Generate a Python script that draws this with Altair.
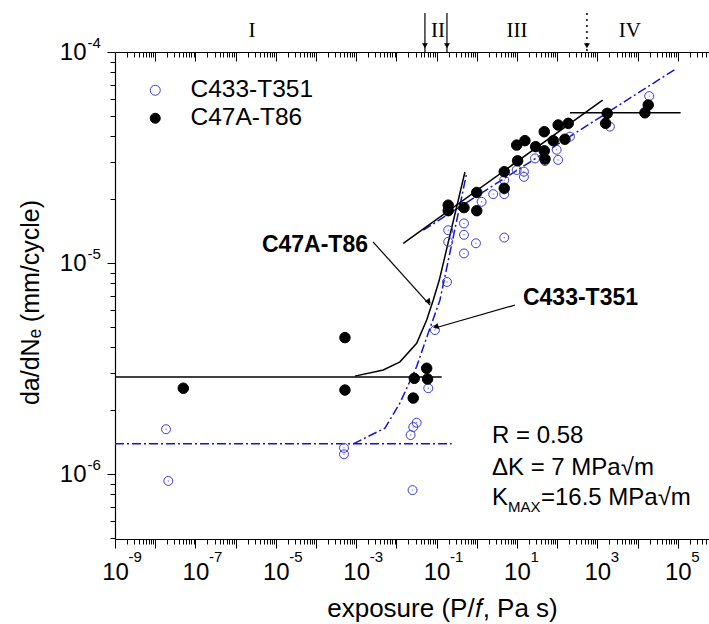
import altair as alt
import pandas as pd

FONT = "Liberation Sans"
SERIF = "Liberation Serif"
BLUE_PT = "#3a3ae0"
BLUE_LN = "#1414d2"

XMIN, XMAX = 1e-9, 6.0e5
YMIN, YMAX = 4.92e-7, 1e-4

S1, S2 = "C433-T351", "C47A-T86"

# ---- measured data: C433-T351 (open blue circles)
c433_x = [1.86e-8, 2.12e-8, 4.98e-4, 4.98e-4, 0.032, 0.0263, 0.0226, 0.0253, 0.0622, 0.0912,
          0.182, 0.195, 0.195, 0.481, 0.481, 0.481, 0.955, 4.83, 1.32, 2.57,
          4.83, 4.83, 14.9, 14.9, 9.84, 28.1, 49.8, 106, 97.3, 208, 2056, 19540]
c433_y = [1.63e-6, 9.27e-7, 1.33e-6, 1.24e-6, 1.75e-6, 1.67e-6, 1.53e-6, 8.39e-7, 2.55e-6, 4.81e-6,
          8.13e-6, 1.43e-5, 1.26e-5, 1.54e-5, 1.36e-5, 1.11e-5, 1.24e-5, 1.32e-5, 1.95e-5, 2.12e-5,
          2.12e-5, 2.47e-5, 2.56e-5, 2.71e-5, 2.76e-5, 3.13e-5, 3.04e-5, 3.08e-5, 3.44e-5, 3.97e-5,
          4.43e-5, 6.18e-5]
# ---- C47A-T86 (filled black circles)
c47a_x = [5.0e-8, 5.26e-4, 5.26e-4, 0.0279, 0.0568, 0.0597, 0.0263, 0.195, 0.195, 0.481,
          1.0, 1.0, 4.83, 4.83, 10.4, 9.84, 15.8, 29.2, 47.8, 47.8,
          49.8, 80, 106, 189, 156, 1762, 1607, 15280, 18460]
c47a_y = [2.55e-6, 4.43e-6, 2.50e-6, 2.84e-6, 3.17e-6, 2.82e-6, 2.29e-6, 1.88e-5, 1.77e-5, 1.83e-5,
          2.16e-5, 1.77e-5, 2.71e-5, 2.26e-5, 3.05e-5, 3.62e-5, 3.80e-5, 3.56e-5, 4.19e-5, 3.40e-5,
          3.11e-5, 3.80e-5, 4.51e-5, 4.59e-5, 3.86e-5, 5.12e-5, 4.59e-5, 5.15e-5, 5.61e-5]

# ---- model / fit lines
k_flat_x, k_flat_y = [1e-9, 0.134], [2.88e-6, 2.88e-6]
k_curve_x = [9.3e-4, 4.72e-3, 0.0123, 0.032, 0.0568, 0.0828, 0.117, 0.508]
k_curve_y = [2.91e-6, 3.11e-6, 3.40e-6, 4.16e-6, 5.37e-6, 6.68e-6, 8.3e-6, 2.70e-5]
k_s3_x, k_s3_y = [0.01486, 1355], [1.24e-5, 5.92e-5]
k_s4_x, k_s4_y = [208, 1.18e5], [5.15e-5, 5.15e-5]
b_flat_x, b_flat_y = [1e-9, 0.238], [1.39e-6, 1.39e-6]
b_curve_x = [8.47e-4, 5.2e-3, 0.0123, 0.032, 0.0622, 0.1216, 0.57]
b_curve_y = [1.39e-6, 1.65e-6, 2.17e-6, 3.23e-6, 4.66e-6, 6.68e-6, 2.70e-5]
b_s3_x, b_s3_y = [0.0467, 9.4e4], [1.43e-5, 8.37e-5]

# ---- annotations
ann_labels = ["C47A-T86", "C433-T351"]
ann_lab_x = [1.97e-3, 14.1]
ann_lab_y = [1.22e-5, 6.83e-6]
ann_lab_align = ["right", "left"]
arrow_seg = ["a", "a", "b", "b"]
arrow_x = [2.62e-3, 0.0686, 8.91, 0.0912]
arrow_y = [1.26e-5, 6.32e-6, 6.32e-6, 4.92e-6]
head_x = [0.0625, 0.1]
head_y = [6.6e-6, 5.0e-6]
head_angle = [139, 253]

roman = ["I", "II", "III", "IV"]
roman_x = [2.56e-6, 0.1084, 10.0, 6470]
roman_y = [1.26e-4, 1.26e-4, 1.26e-4, 1.26e-4]
region_x = [0.0514, 0.1815, 551]
region_dotted = [False, False, True]
region_y_top, region_y_bot, region_y_head = 1.53e-4, 1.0e-4, 1.07e-4

info_x = 2.39
info_lines = ["R = 0.58", "\u0394K = 7 MPa\u221am"]
info_y = [1.51e-6, 1.07e-6]
kmax_y = 7.69e-7
kmax_parts = ["K", "MAX", "=16.5 MPa\u221am"]
kmax_dx = [0, 16, 49]
kmax_dy = [0, 9, 0]
kmax_fs = [24, 15, 24]

x_major = [10.0 ** e for e in range(-9, 6)]
x_lab = [10.0 ** e for e in range(-9, 6, 2)]
x_minor = [m * 10.0 ** e for e in range(-9, 6) for m in range(2, 10) if m * 10.0 ** e <= XMAX]
y_major = [1e-6, 1e-5, 1e-4]
y_minor = [m * 10.0 ** e for e in (-7, -6, -5) for m in range(2, 10) if m * 10.0 ** e >= YMIN]

# ---- tables
pts = pd.DataFrame({
    "x": c433_x + c47a_x,
    "y": c433_y + c47a_y,
    "series": [S1] * len(c433_x) + [S2] * len(c47a_x),
    "sz": [80] * len(c433_x) + [110] * len(c47a_x),
})
centers = pd.DataFrame({"x": c433_x, "y": c433_y})


def seg_df(segs):
    rows = []
    for name, xs_, ys_ in segs:
        for i, (a, b) in enumerate(zip(xs_, ys_)):
            rows.append({"seg": name, "i": i, "x": a, "y": b})
    return pd.DataFrame(rows)


black_lines = seg_df([("flat", k_flat_x, k_flat_y), ("curve", k_curve_x, k_curve_y),
                      ("s3", k_s3_x, k_s3_y), ("s4", k_s4_x, k_s4_y)])
blue_lines = seg_df([("flat", b_flat_x, b_flat_y), ("curve", b_curve_x, b_curve_y),
                     ("s3", b_s3_x, b_s3_y)])
arrows = pd.DataFrame({"seg": arrow_seg, "x": arrow_x, "y": arrow_y, "i": [0, 1, 0, 1]})
heads = pd.DataFrame({"x": head_x, "y": head_y, "ang": head_angle})
rom = pd.DataFrame({"x": roman_x, "y": roman_y, "t": roman})
reg = pd.DataFrame({"x": region_x, "dotted": region_dotted,
                    "y": [region_y_top] * 3, "y2": [region_y_bot] * 3, "yh": [region_y_head] * 3})
info = pd.DataFrame({"x": [info_x] * 2, "y": info_y, "t": info_lines})

xs = alt.Scale(type="log", domain=[XMIN, XMAX], nice=False)
ys = alt.Scale(type="log", domain=[YMIN, YMAX], nice=False)


def X(axis=None, field="x"):
    return alt.X(f"{field}:Q", scale=xs, axis=axis)


def Y(axis=None, field="y"):
    return alt.Y(f"{field}:Q", scale=ys, axis=axis)


EXP = "round(log(datum.value)/LN10)"

ax_bottom = alt.Axis(orient="bottom", values=x_major, tickSize=9,
                     labelExpr=f"{EXP} % 2 != 0 ? '10' : ''", labelFontSize=24, labelPadding=12,
                     labelBaseline="top", labelAlign="center", labelFlush=False, labelOverlap=False,
                     title="exposure (P/\U0001D453, Pa s)", titleFontSize=26, titleFontWeight="normal",
                     titleX=327, titleY=77, titleAlign="center", titleBaseline="alphabetic")
ax_bottom_exp = alt.Axis(orient="bottom", values=x_lab, ticks=False, tickSize=0, domain=False,
                         labelExpr=f"'' + {EXP}", labelFontSize=15, labelAlign="left", labelOffset=13,
                         labelPadding=10, labelBaseline="top", labelFlush=False, labelOverlap=False,
                         title=None)
ax_bottom_minor = alt.Axis(orient="bottom", values=x_minor, tickSize=5, labels=False,
                           domain=False, title=None)
ax_left = alt.Axis(orient="left", values=y_major, tickSize=8, labelExpr="'10'", labelFontSize=24,
                   labelPadding=21, labelBaseline="middle", labelAlign="right", labelFlush=False,
                   labelOverlap=False, title="da/dN\u2091 (mm/cycle)", titleFontSize=25,
                   titleFontWeight="normal", titleX=-72, titleY=250, titleAngle=270,
                   titleAlign="center", titleBaseline="bottom")
ax_left_exp = alt.Axis(orient="left", values=y_major, ticks=False, tickSize=0, domain=False,
                       labelExpr=f"'' + {EXP}", labelFontSize=15, labelAlign="left", labelPadding=28,
                       labelOffset=-10, labelBaseline="middle", labelFlush=False, labelOverlap=False,
                       title=None)
ax_left_minor = alt.Axis(orient="left", values=y_minor, tickSize=5, labels=False, domain=False,
                         title=None)
ax_top_major = alt.Axis(orient="top", values=x_major, tickSize=9, offset=-9, labels=False,
                        domain=False, title=None)
ax_top_minor = alt.Axis(orient="top", values=x_minor, tickSize=5, offset=-5, labels=False,
                        domain=False, title=None)
ax_top_line = alt.Axis(orient="top", values=[1e-9], ticks=False, labels=False, domain=True,
                       title=None)

legend = alt.Legend(orient="none", legendX=28, legendY=26, title=None, labelFontSize=24.5,
                    labelFont=FONT, symbolSize=100, symbolStrokeWidth=1, labelOffset=23,
                    rowPadding=3, padding=0)

points = alt.Chart(pts).mark_point(strokeWidth=1, opacity=1).encode(
    x=X(ax_bottom), y=Y(ax_left),
    stroke=alt.Stroke("series:N", scale=alt.Scale(domain=[S1, S2], range=[BLUE_PT, "black"]), legend=legend),
    fill=alt.Fill("series:N", scale=alt.Scale(domain=[S1, S2], range=["transparent", "black"]), legend=legend),
    size=alt.Size("sz:Q", scale=None, legend=None),
)
dots = alt.Chart(centers).mark_circle(size=2, color=BLUE_PT, opacity=0.7).encode(x=X(), y=Y())

blk = alt.Chart(black_lines).mark_line(color="black", strokeWidth=1.5).encode(
    x=X(ax_bottom_minor), y=Y(ax_left_minor), detail="seg:N", order="i:Q")

blu = alt.Chart(blue_lines).mark_line(color=BLUE_LN, strokeWidth=1.5, strokeDash=[9, 3, 2, 3]).encode(
    x=X(ax_bottom_exp), y=Y(ax_left_exp), detail="seg:N", order="i:Q")

arr = alt.Chart(arrows).mark_line(color="black", strokeWidth=1.2).encode(
    x=X(ax_top_major), y=Y(), detail="seg:N", order="i:Q")

hd = alt.Chart(heads).mark_point(shape="triangle", filled=True, color="black", size=40, opacity=1).encode(
    x=X(ax_top_minor), y=Y(), angle=alt.Angle("ang:Q", scale=None))

lab_layers = []
for i, (t, al) in enumerate(zip(ann_labels, ann_lab_align)):
    d = pd.DataFrame({"x": [ann_lab_x[i]], "y": [ann_lab_y[i]], "t": [t]})
    lab_layers.append(alt.Chart(d).mark_text(font=FONT, fontSize=23, fontWeight="bold", baseline="middle",
                                             align=al).encode(x=X(), y=Y(), text="t:N"))

rm = alt.Chart(rom).mark_text(font=SERIF, fontSize=21, baseline="middle", align="center").encode(
    x=X(ax_top_line), y=Y(), text="t:N")

reg_solid = alt.Chart(reg).transform_filter("!datum.dotted").mark_rule(color="black", strokeWidth=1.2).encode(
    x=X(), y=Y(), y2="y2:Q")
reg_dot = alt.Chart(reg).transform_filter("datum.dotted").mark_rule(color="black", strokeWidth=1.5,
                                                                     strokeDash=[2, 4]).encode(
    x=X(), y=Y(), y2="y2:Q")
reg_head = alt.Chart(reg).mark_point(shape="triangle-down", filled=True, color="black", size=35,
                                     opacity=1).encode(x=X(), y=Y(field="yh"))

inf = alt.Chart(info).mark_text(font=FONT, fontSize=24, align="left", baseline="middle").encode(
    x=X(), y=Y(), text="t:N")
km_layers = []
for t, dx, dy, fs in zip(kmax_parts, kmax_dx, kmax_dy, kmax_fs):
    d = pd.DataFrame({"x": [info_x], "y": [kmax_y], "t": [t]})
    km_layers.append(
        alt.Chart(d).mark_text(font=FONT, fontSize=fs, align="left", baseline="middle", dx=dx, dy=dy).encode(
            x=X(), y=Y(), text="t:N"))

chart = alt.layer(blu, blk, points, dots, arr, hd, *lab_layers, rm, reg_solid, reg_dot, reg_head, inf,
                  *km_layers).resolve_axis(
    x="independent", y="independent"
).properties(
    width=594, height=487,
    padding={"left": 115, "top": 52, "right": 0, "bottom": 85},
    autosize=alt.AutoSizeParams(type="none"),
    background="white",
).configure_view(stroke=None).configure_axis(
    grid=False, domainColor="black", tickColor="black", labelColor="black", titleColor="black",
    labelFont=FONT, titleFont=FONT, domainWidth=1.2, tickWidth=1,
)

chart.save("out.html", embed_options={"renderer": "svg", "actions": False})
